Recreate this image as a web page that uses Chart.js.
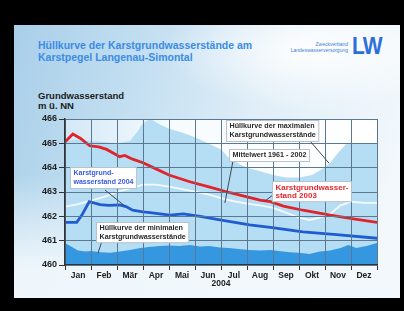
<!DOCTYPE html>
<html>
<head>
<meta charset="utf-8">
<script src="https://cdn.jsdelivr.net/npm/chart.js@4.4.1/dist/chart.umd.min.js"></script>
<style>
  html, body { margin:0; padding:0; width:404px; height:311px; overflow:hidden; background:#000; }
  .slide { position:absolute; left:14px; top:25px; width:386px; height:273px;
    background:
      radial-gradient(ellipse 150px 60px at 300px 25px, rgba(255,255,255,0.95), rgba(255,255,255,0) 100%),
      linear-gradient(to bottom, rgba(255,255,255,0) 55%, rgba(242,248,252,0.95) 90%),
      linear-gradient(105deg, #a9cfe9 0%, #c3dff1 30%, #e2eff8 60%, #f6fafd 100%);
  }
  .title { position:absolute; left:38px; top:40px; font:bold 10.5px "Liberation Sans", Arial, sans-serif; line-height:11.5px; color:#3b8ce6; white-space:nowrap; }
  .logo { position:absolute; left:352px; top:34px; font:bold 21px "Liberation Sans", Arial, sans-serif; color:#2c6fd8; letter-spacing:-1px; transform:scaleY(1.15); }
  .org { position:absolute; right:56px; top:42px; font:5px "Liberation Sans", Arial, sans-serif; line-height:5.5px; color:#3b7fd8; text-align:right; white-space:nowrap; }
  .ytitle { position:absolute; left:38px; top:91px; font:bold 9.5px "Liberation Sans", Arial, sans-serif; line-height:10px; color:#1c1c1c; white-space:nowrap; }
  canvas { position:absolute; left:0; top:0; }
</style>
</head>
<body>
<div class="slide"></div>
<div class="title">Hüllkurve der Karstgrundwasserstände am<br>Karstpegel Langenau-Simontal</div>
<div class="org">Zweckverband<br>Landeswasserversorgung</div>
<div class="logo">LW</div>
<div class="ytitle">Grundwasserstand<br>m ü. NN</div>
<canvas id="c" width="404" height="311"></canvas>
<script>
// ---- Data (x = months since 1 Jan 2004, y = m ü. NN) ----
const months = ['Jan','Feb','Mär','Apr','Mai','Jun','Jul','Aug','Sep','Okt','Nov','Dez'];
const yearLabel = '2004';
const yTicksMin = 460, yTicksMax = 466;

const maxEnvX = [0, 0.5, 1, 1.5, 2, 2.5, 2.8, 3.0, 3.3, 3.6, 4.0, 4.5, 5.0, 5.5, 6.0, 6.3, 6.7, 7.0, 7.5, 8.0, 8.5, 9.0, 9.5, 9.9, 10.2, 10.5, 10.8, 11.0, 11.5, 12];
const maxEnvY = [465.1, 465.15, 465.1, 465.05, 465.0, 465.1, 465.5, 465.85, 466.0, 465.8, 465.6, 465.45, 465.25, 465.0, 464.75, 464.4, 464.15, 464.0, 463.85, 463.7, 463.6, 463.6, 463.7, 463.95, 464.2, 464.6, 464.95, 465.0, 465.0, 465.0];

const minEnvX = [0, 0.25, 0.5, 0.8, 1.0, 1.35, 1.75, 2.1, 2.5, 2.9, 3.3, 3.65, 4.0, 4.4, 4.8, 5.2, 5.55, 5.95, 6.3, 6.65, 7.1, 7.5, 7.9, 8.3, 8.65, 9.0, 9.4, 9.8, 10.2, 10.6, 10.9, 11.2, 11.6, 12];
const minEnvY = [460.9, 460.75, 460.6, 460.55, 460.58, 460.52, 460.5, 460.55, 460.62, 460.7, 460.75, 460.78, 460.8, 460.78, 460.82, 460.76, 460.78, 460.72, 460.7, 460.66, 460.62, 460.6, 460.62, 460.56, 460.52, 460.5, 460.45, 460.55, 460.6, 460.7, 460.82, 460.7, 460.78, 460.9];

const meanX = [0, 0.5, 1, 1.5, 2, 2.5, 3, 3.5, 4, 4.5, 5, 5.5, 6, 6.5, 7, 7.5, 8, 8.5, 9, 9.4, 9.8, 10.2, 10.6, 11, 11.5, 12];
const meanY = [462.4, 462.5, 462.65, 462.8, 463.0, 463.15, 463.3, 463.3, 463.22, 463.12, 463.02, 462.9, 462.75, 462.62, 462.52, 462.45, 462.35, 462.15, 461.95, 461.85, 461.95, 462.1, 462.45, 462.6, 462.55, 462.55];

const gw2004X = [0, 0.45, 0.65, 0.93, 1.35, 1.7, 2.1, 2.35, 2.6, 3.0, 3.27, 3.65, 4.04, 4.55, 5.2, 5.96, 7.1, 7.9, 9.15, 10.45, 12];
const gw2004Y = [461.75, 461.75, 462.05, 462.6, 462.48, 462.45, 462.47, 462.4, 462.25, 462.18, 462.15, 462.1, 462.05, 462.1, 462.0, 461.85, 461.65, 461.55, 461.36, 461.25, 461.1];

const gw2003X = [0, 0.3, 0.6, 0.95, 1.3, 1.6, 1.85, 2.1, 2.3, 2.6, 3.0, 3.5, 4.0, 4.8, 5.5, 6.35, 7.0, 7.5, 7.9, 8.4, 9.15, 10.2, 11.1, 12];
const gw2003Y = [465.05, 465.38, 465.2, 464.9, 464.85, 464.75, 464.6, 464.45, 464.5, 464.35, 464.2, 463.95, 463.7, 463.42, 463.22, 462.97, 462.8, 462.67, 462.6, 462.42, 462.25, 462.05, 461.9, 461.75];

const pts = (xs, ys) => xs.map((x, i) => ({x, y: ys[i]}));

// ---- Annotations (anchor in data coords) ----
const FONT = '"Liberation Sans", Arial, sans-serif';
const notes = [
  {lines:['Karstgrund-','wasserstand 2004'], color:'#3a58e0', size:7, lh:9, box:[0.19, 464.03], lead:[[1.54,463.08],[2.31,462.42]]},
  {lines:['Hüllkurve der maximalen','Karstgrundwasserstände'], color:'#2a2a2a', size:7.2, lh:9, box:[6.2, 465.96], lead:[[9.42,465.1],[10.15,464.19]]},
  {lines:['Mittelwert 1961 - 2002'], color:'#2a2a2a', size:7.2, lh:9, box:[6.31, 464.77], lead:[[6.46,464.27],[6.15,462.55]]},
  {lines:['Karstgrundwasser-','stand 2003'], color:'#e8262c', size:8, lh:8.6, box:[7.96, 463.45], lead:[[8.0,462.88],[7.69,462.63]]},
  {lines:['Hüllkurve der minimalen','Karstgrundwasserstände'], color:'#2a2a2a', size:7.2, lh:8.6, box:[1.19, 461.77], lead:[[1.46,461.11],[1.27,460.49]]}
];

const bgPlugin = {
  id:'bg',
  beforeDraw(chart){
    const {ctx, chartArea:a} = chart;
    const g = ctx.createLinearGradient(a.left, a.top, a.right, a.top);
    g.addColorStop(0, '#d3e8f6');
    g.addColorStop(0.35, '#f7fbfd');
    g.addColorStop(1, '#ffffff');
    ctx.save(); ctx.fillStyle = g; ctx.fillRect(a.left, a.top, a.right-a.left, a.bottom-a.top); ctx.restore();
  }
};

const notePlugin = {
  id:'notes',
  afterDraw(chart){
    const {ctx} = chart;
    const xs = chart.scales.x, ys = chart.scales.y;
    ctx.save();
    for (const n of notes){
      ctx.strokeStyle = '#3c4856'; ctx.lineWidth = 1;
      ctx.beginPath();
      ctx.moveTo(xs.getPixelForValue(n.lead[0][0]), ys.getPixelForValue(n.lead[0][1]));
      ctx.lineTo(xs.getPixelForValue(n.lead[1][0]), ys.getPixelForValue(n.lead[1][1]));
      ctx.stroke();
    }
    for (const n of notes){
      ctx.font = `bold ${n.size}px ${FONT}`;
      const w = Math.max(...n.lines.map(l => ctx.measureText(l).width)) + 6;
      const h = n.lines.length * n.lh + 3;
      const bx = Math.round(xs.getPixelForValue(n.box[0])) + 0.5;
      const by = Math.round(ys.getPixelForValue(n.box[1])) + 0.5;
      ctx.fillStyle = '#ffffff'; ctx.fillRect(bx, by, w, h);
      ctx.strokeStyle = '#b8c2cc'; ctx.lineWidth = 1; ctx.strokeRect(bx, by, w, h);
      ctx.fillStyle = n.color; ctx.textBaseline = 'middle'; ctx.textAlign = 'left';
      n.lines.forEach((l, i) => ctx.fillText(l, bx + 3, by + 1.5 + n.lh * (i + 0.5)));
    }
    ctx.font = `bold 8.5px ${FONT}`; ctx.fillStyle = '#222'; ctx.textAlign = 'center'; ctx.textBaseline = 'middle';
    ctx.fillText(yearLabel, xs.getPixelForValue(6), chart.chartArea.bottom + 18.5);
    ctx.restore();
  }
};

const gridCol = '#5c7891';
new Chart(document.getElementById('c'), {
  type:'line',
  data:{ datasets:[
    {label:'Karstgrundwasserstand 2003', data:pts(gw2003X, gw2003Y), borderColor:'#e2232a', borderWidth:2.8, pointRadius:0, fill:false, order:1},
    {label:'Karstgrundwasserstand 2004', data:pts(gw2004X, gw2004Y), borderColor:'#1f5cd2', borderWidth:2.8, pointRadius:0, fill:false, order:2},
    {label:'Mittelwert 1961 - 2002', data:pts(meanX, meanY), borderColor:'#f4f9fd', borderWidth:1.8, pointRadius:0, fill:false, order:3},
    {label:'Hüllkurve der minimalen Karstgrundwasserstände', data:pts(minEnvX, minEnvY), borderColor:'rgba(0,0,0,0)', borderWidth:0, pointRadius:0, fill:'start', backgroundColor:'#3597e0', order:4},
    {label:'Hüllkurve der maximalen Karstgrundwasserstände', data:pts(maxEnvX, maxEnvY), borderColor:'rgba(0,0,0,0)', borderWidth:0, pointRadius:0, fill:'start', backgroundColor:'#b5ddf4', order:5}
  ]},
  options:{
    responsive:false, animation:false, devicePixelRatio:1,
    layout:{ padding:{left:14, top:119, right:27, bottom:28} },
    plugins:{ legend:{display:false}, tooltip:{enabled:false} },
    scales:{
      x:{ type:'linear', min:0, max:12, display:false },
      xc:{ type:'category', labels:months, offset:true, position:'bottom', weight:1,
        grid:{ offset:true, z:1, color:gridCol, lineWidth:1, drawTicks:true, tickLength:5, tickColor:'#333' },
        border:{ color:'#333', width:1.5, z:1 },
        ticks:{ font:{family:FONT, size:8.5, weight:'bold'}, color:'#222', padding:1, autoSkip:false, maxRotation:0 },
        afterFit(s){ s.height = 18; } },
      y:{ type:'linear', min:yTicksMin, max:yTicksMax,
        ticks:{ stepSize:1, font:{family:FONT, size:9, weight:'bold'}, color:'#222', padding:2 },
        grid:{ z:1, color:gridCol, lineWidth:1, tickLength:6, tickColor:'#333' },
        border:{ color:'#333', width:1.5, z:1 },
        afterFit(s){ s.width = 51; } }
    }
  },
  plugins:[bgPlugin, notePlugin]
});
</script>
</body>
</html>
